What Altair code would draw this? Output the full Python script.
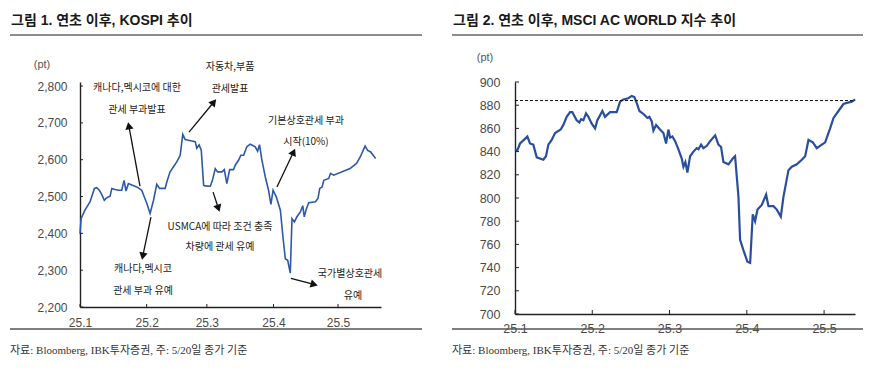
import altair as alt
import pandas as pd

# ---------------- data ----------------
month_labels = ["25.1", "25.2", "25.3", "25.4", "25.5"]

# KOSPI: x = calendar days since 1 Jan 2025
kospi_month_ticks = [0, 31, 59, 90, 120]
kospi_day = [0, 0.5, 2.3, 4.7, 6.7, 7.8, 9.0, 10.1, 11.3, 12.1, 13.2, 14.0, 14.8, 16.3, 17.9,
             19.4, 20.5, 21.4, 22.5, 24.1, 26.4, 28.0, 28.7, 31.1, 32.6, 34.2, 35.7, 37.0,
             39.6, 40.4, 41.9, 43.5, 45.0, 46.6, 47.8, 48.9, 52.0, 53.6, 54.3, 55.4, 56.4,
             57.5, 58.2, 60.6, 61.6, 62.9, 64.0, 66.0, 67.1, 68.3, 69.6, 71.4, 72.2, 73.8,
             74.8, 76.1, 77.6, 79.2, 81.5, 82.6, 83.5, 84.6, 86.2, 87.7, 88.8, 89.8, 91.3,
             93.2, 94.4, 95.5, 96.6, 97.8, 98.6, 99.7, 100.9, 102.5, 103.6, 104.3, 105.3,
             106.4, 109.5, 110.7, 111.5, 112.6, 113.4, 115.7, 116.5, 118.0, 125.6, 128.6,
             130.4, 132.6, 133.8, 135.2, 137.5]
kospi_value = [2399, 2440, 2463, 2486, 2522, 2524, 2517, 2506, 2490, 2495, 2499, 2501, 2522,
               2519, 2517, 2517, 2544, 2515, 2535, 2531, 2526, 2520, 2517, 2481, 2454, 2490,
               2533, 2522, 2522, 2540, 2567, 2581, 2594, 2612, 2669, 2655, 2651, 2649, 2631,
               2640, 2626, 2531, 2529, 2528, 2544, 2576, 2567, 2567, 2573, 2535, 2573, 2573,
               2585, 2599, 2612, 2612, 2635, 2642, 2635, 2623, 2641, 2599, 2553, 2517, 2479,
               2517, 2499, 2463, 2390, 2331, 2327, 2292, 2440, 2431, 2445, 2458, 2475, 2445,
               2467, 2483, 2486, 2495, 2522, 2526, 2544, 2549, 2563, 2558, 2576, 2590, 2608,
               2637, 2625, 2621, 2603]
kospi_y_ticks = [2200, 2300, 2400, 2500, 2600, 2700, 2800]

# MSCI ACWI: x = months since start of Jan 2025
msci_month_ticks = [0, 1, 2, 3, 4]
msci_month = [0.000, 0.030, 0.065, 0.129, 0.160, 0.194, 0.237, 0.281, 0.367, 0.401, 0.432,
              0.475, 0.518, 0.591, 0.626, 0.669, 0.712, 0.742, 0.798, 0.833, 0.855, 0.885,
              0.919, 0.950, 0.993, 1.036, 1.066, 1.131, 1.165, 1.230, 1.316, 1.360, 1.403,
              1.467, 1.511, 1.545, 1.575, 1.610, 1.670, 1.713, 1.739, 1.770, 1.791, 1.826,
              1.877, 1.921, 1.955, 1.985, 2.007, 2.037, 2.072, 2.115, 2.158, 2.180, 2.205,
              2.231, 2.266, 2.309, 2.352, 2.374, 2.408, 2.438, 2.482, 2.525, 2.590, 2.633,
              2.667, 2.697, 2.762, 2.818, 2.848, 2.892, 2.913, 2.956, 3.008, 3.043, 3.077,
              3.107, 3.138, 3.194, 3.250, 3.280, 3.345, 3.388, 3.440, 3.474, 3.539, 3.582,
              3.647, 3.712, 3.755, 3.798, 3.854, 3.906, 3.971, 4.014, 4.078, 4.122, 4.186,
              4.251, 4.294, 4.359, 4.402]
msci_value = [842, 841, 847, 851, 853, 847, 846, 835, 833, 836, 846, 850, 856, 859, 863, 870,
              874, 874, 867, 865, 868, 867, 873, 870, 864, 860, 867, 875, 870, 874, 874, 883,
              885, 886, 888, 887, 882, 875, 872, 869, 870, 866, 858, 863, 859, 856, 847, 859,
              852, 853, 849, 842, 834, 827, 831, 822, 836, 840, 843, 842, 846, 843, 845, 849,
              854, 846, 844, 831, 829, 834, 836, 801, 764, 755, 745, 744, 786, 780, 790, 794,
              803, 793, 793, 790, 784, 801, 824, 827, 829, 833, 836, 850, 848, 843, 846, 848,
              860, 869, 875, 881, 882, 883, 885]
msci_ref_level = 884
msci_y_ticks = [700, 720, 740, 760, 780, 800, 820, 840, 860, 880, 900]

# KOSPI annotations (data coordinates: day, index level)
ann_text = ["캐나다,멕시코에 대한", "관세 부과발표", "캐나다,멕시코", "관세 부과 유예",
            "자동차,부품", "관세발표", "USMCA에 따라 조건 충족", "차량에 관세 유예",
            "기본상호관세 부과", "시작(10%)", "국가별상호관세", "유예"]
ann_day = [26.5, 26.5, 29.3, 29.3, 69.8, 69.8, 65.1, 65.1, 105.1, 105.1, 125.6, 127.0]
ann_level = [2795, 2735, 2303, 2243, 2852, 2792, 2417, 2363, 2705, 2648, 2289, 2229]

arrow_day = [27.9, 33.0, 50.7, 61.9, 91.6, 98.1]
arrow_level = [2528, 2444, 2675, 2512, 2526, 2278]
arrow_tip_day = [22.8, 29.3, 61.9, 64.2, 99.1, 108.4]
arrow_tip_level = [2689, 2341, 2754, 2471, 2618, 2262]
arrow_angle = [349, 192, 40, 162, 25, 105]

# ---------------- styling helpers ----------------
BLUE_L = "#2f58a8"
BLUE_R = "#2a4e9e"
KFONT = "Noto Sans CJK KR"
LFONT = "Liberation Sans"
FOOT = "자료: Bloomberg, IBK투자증권, 주: 5/20일 종가 기준"
AXC = "#222222"


def label_expr(ticks, labels):
    t = ",".join(str(v) for v in ticks)
    l = ",".join("'" + s + "'" for s in labels)
    return f"[{l}][indexof([{t}], datum.value)]"


one = pd.DataFrame({"k": [0]})


def decorations(title, title_x, footer_x, line_x1, line_x2, pt_x, pt_y):
    base = alt.Chart(one)
    pin = base.mark_rule(opacity=0).encode(
        x=alt.value(line_x1 - 2), x2=alt.value(line_x1 - 2), y=alt.value(-74), y2=alt.value(-74))
    ttl = base.mark_text(align="left", baseline="middle", font=LFONT + ", " + KFONT, fontSize=14,
                         fontWeight="bold", color="#1a1a1a").encode(
        x=alt.value(title_x), y=alt.value(-61), text=alt.value(title))
    top_line = base.mark_rule(color="#8c8c8c", strokeWidth=2).encode(
        x=alt.value(line_x1), x2=alt.value(line_x2), y=alt.value(-47), y2=alt.value(-47))
    bot_line = base.mark_rule(color="#555555", strokeWidth=1.5).encode(
        x=alt.value(line_x1), x2=alt.value(line_x2), y=alt.value(247), y2=alt.value(247))
    foot = base.mark_text(align="left", baseline="middle", font="Liberation Serif, " + KFONT,
                          fontSize=11, color="#333333").encode(
        x=alt.value(footer_x), y=alt.value(269), text=alt.value(FOOT))
    pt = base.mark_text(align="center", baseline="middle", font=LFONT, fontSize=11,
                        color="#555555").encode(
        x=alt.value(pt_x), y=alt.value(pt_y), text=alt.value("(pt)"))
    return [pin, ttl, top_line, bot_line, foot, pt]


def inward_ticks(xticks, yticks, xs, ys, xaxis, yaxis, h, length=4):
    xdf = pd.DataFrame({"t": xticks})
    ydf = pd.DataFrame({"t": yticks})
    xt = alt.Chart(xdf).mark_rule(color=AXC, strokeWidth=1).encode(
        x=alt.X("t:Q", scale=xs, axis=xaxis), y=alt.value(h), y2=alt.value(h - length))
    yt = alt.Chart(ydf).mark_rule(color=AXC, strokeWidth=1).encode(
        y=alt.Y("t:Q", scale=ys, axis=yaxis), x=alt.value(0), x2=alt.value(length))
    return [xt, yt]


# ---------------- left: KOSPI ----------------
kospi_df = pd.DataFrame({"day": kospi_day, "value": kospi_value})
ann_df = pd.DataFrame({"text": ann_text, "day": ann_day, "value": ann_level})
arr_df = pd.DataFrame({"day": arrow_day, "value": arrow_level, "day2": arrow_tip_day,
                       "value2": arrow_tip_level, "angle": arrow_angle})

kx = alt.Scale(domain=[0, 140], nice=False, zero=False)
ky = alt.Scale(domain=[2200, 2811], nice=False, zero=False)
kx_axis = alt.Axis(values=kospi_month_ticks, labelExpr=label_expr(kospi_month_ticks, month_labels),
                   grid=False, ticks=False, labelPadding=10, labelFontSize=12,
                   labelFlush=False, labelOverlap=False, title=None)
ky_axis = alt.Axis(values=kospi_y_ticks, format=",.0f", grid=False, ticks=False,
                   labelPadding=13, labelFontSize=12, labelFlush=False,
                   labelOverlap=False, title=None)

k_line = alt.Chart(kospi_df).mark_line(color=BLUE_L, strokeWidth=1.6).encode(
    x=alt.X("day:Q", scale=kx, axis=kx_axis),
    y=alt.Y("value:Q", scale=ky, axis=ky_axis),
)
k_ann = alt.Chart(ann_df).mark_text(font=KFONT, fontSize=10, color="#222222",
                                    align="center", baseline="middle").encode(
    x=alt.X("day:Q", scale=kx, axis=kx_axis), y=alt.Y("value:Q", scale=ky, axis=ky_axis),
    text="text:N")
k_arrow = alt.Chart(arr_df).mark_rule(color="#111111", strokeWidth=1.3).encode(
    x=alt.X("day:Q", scale=kx, axis=kx_axis), y=alt.Y("value:Q", scale=ky, axis=ky_axis),
    x2="day2:Q", y2="value2:Q")
k_head = alt.Chart(arr_df).mark_point(shape="triangle", filled=True, size=70,
                                      color="#111111", opacity=1).encode(
    x=alt.X("day2:Q", scale=kx, axis=kx_axis), y=alt.Y("value2:Q", scale=ky, axis=ky_axis),
    angle=alt.Angle("angle:Q", scale=None))

left = alt.layer(
    k_line, k_arrow, k_head, k_ann,
    *inward_ticks(kospi_month_ticks, kospi_y_ticks, kx, ky, kx_axis, ky_axis, 225, 3),
    *decorations("그림 1. 연초 이후, KOSPI 추이", -69, -70, -70, 342, -38, -17),
).properties(width=301, height=225)

# ---------------- right: MSCI ACWI ----------------
msci_df = pd.DataFrame({"m": msci_month, "value": msci_value})
ref_df = pd.DataFrame({"m": [0], "m2": [4.4], "value": [msci_ref_level]})

mx = alt.Scale(domain=[0, 4.4], nice=False, zero=False)
my = alt.Scale(domain=[700, 900], nice=False, zero=False)
mx_axis = alt.Axis(values=msci_month_ticks, labelExpr=label_expr(msci_month_ticks, month_labels),
                   grid=False, ticks=False, labelPadding=8, labelFontSize=12.5,
                   labelFlush=False, labelOverlap=False, title=None)
my_axis = alt.Axis(values=msci_y_ticks, grid=False, ticks=False, labelPadding=15,
                   labelFontSize=12.5, labelFlush=False, labelOverlap=False, title=None)

m_line = alt.Chart(msci_df).mark_line(color=BLUE_R, strokeWidth=2.2).encode(
    x=alt.X("m:Q", scale=mx, axis=mx_axis),
    y=alt.Y("value:Q", scale=my, axis=my_axis),
)
m_ref = alt.Chart(ref_df).mark_rule(color="#111111", strokeWidth=1, strokeDash=[3, 2]).encode(
    x=alt.X("m:Q", scale=mx, axis=mx_axis), x2="m2:Q",
    y=alt.Y("value:Q", scale=my, axis=my_axis))

right = alt.layer(
    m_line, m_ref,
    *inward_ticks(msci_month_ticks, msci_y_ticks, mx, my, mx_axis, my_axis, 232, 4),
    *decorations("그림 2. 연초 이후, MSCI AC WORLD 지수 추이", -62, -63, -63, 348, -30, -24),
).properties(width=340, height=232)

chart = alt.hconcat(left, right, spacing=134, bounds="flush").properties(padding=0).configure_view(
    stroke=None
).configure_axis(
    domainColor=AXC, domainWidth=1.4, labelFont=LFONT, labelColor="#4a4a4a",
)

chart.save("out.html", embed_options={"renderer": "svg", "actions": False})
